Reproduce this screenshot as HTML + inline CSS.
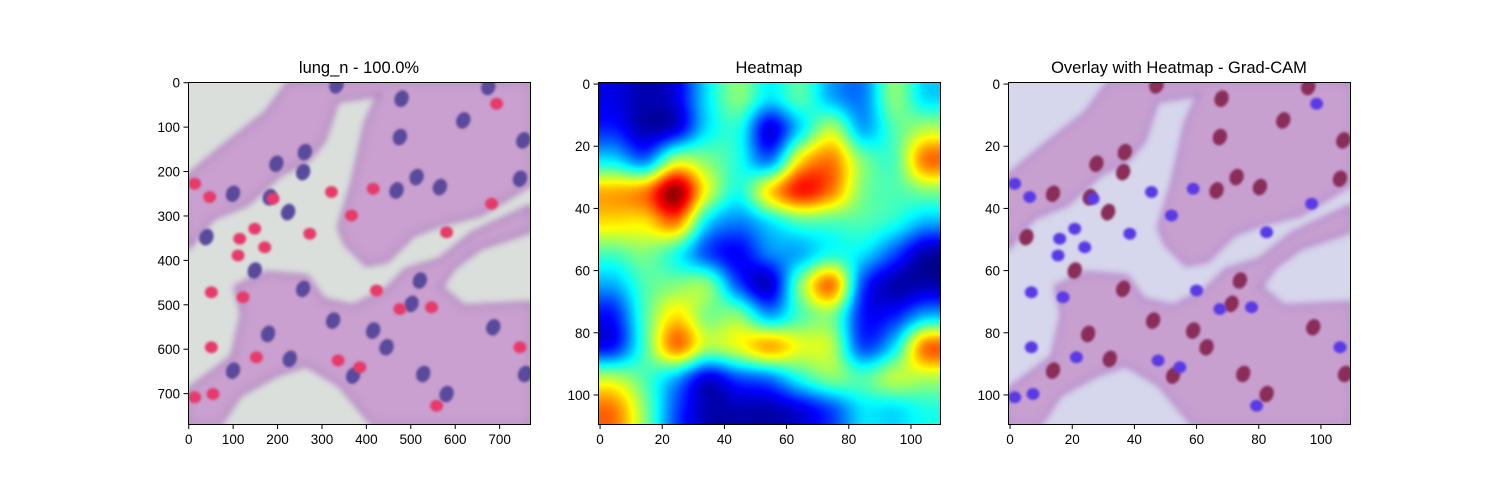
<!DOCTYPE html>
<html><head><meta charset="utf-8"><style>
body{margin:0;background:#fff;width:1500px;height:500px;overflow:hidden;font-family:"Liberation Sans","DejaVu Sans",sans-serif}
canvas{position:absolute}
svg{position:absolute;left:0;top:0}
</style></head><body>
<canvas id="c1" width="342" height="342" style="left:188px;top:82px"></canvas>
<canvas id="c2" width="342" height="342" style="left:598px;top:82px"></canvas>
<canvas id="c3" width="342" height="342" style="left:1008px;top:82px"></canvas>
<svg id="ax" width="1500" height="500"></svg>
<script>
// heatmap grid values (rows top->bottom, cols left->right), cell size 10 units over 0..110
const heatRow0=[0.1,0.05,0.1,0.35,0.5,0.35,0.45,0.3,0.25,0.5,0.35];
const heatRow1=[0.15,0.05,0.1,0.35,0.4,0.1,0.35,0.55,0.3,0.45,0.55];
const heatRow2=[0.35,0.25,0.55,0.5,0.4,0.25,0.65,0.75,0.5,0.45,0.75];
const heatRow3=[0.7,0.75,0.97,0.6,0.4,0.65,0.85,0.75,0.5,0.45,0.5];
const heatRow4=[0.65,0.65,0.75,0.35,0.25,0.35,0.45,0.45,0.45,0.4,0.3];
const heatRow5=[0.45,0.5,0.4,0.2,0.12,0.25,0.3,0.4,0.35,0.2,0.05];
const heatRow6=[0.3,0.45,0.5,0.5,0.2,0.08,0.5,0.75,0.2,0.05,0.05];
const heatRow7=[0.15,0.45,0.65,0.5,0.5,0.3,0.45,0.5,0.15,0.15,0.3];
const heatRow8=[0.15,0.45,0.75,0.55,0.6,0.7,0.6,0.55,0.2,0.35,0.75];
const heatRow9=[0.55,0.45,0.3,0.1,0.2,0.25,0.4,0.5,0.45,0.55,0.55];
const heatRow10=[0.75,0.5,0.2,0.05,0.05,0.05,0.1,0.2,0.35,0.35,0.4];
const heat=[heatRow0,heatRow1,heatRow2,heatRow3,heatRow4,heatRow5,heatRow6,heatRow7,heatRow8,heatRow9,heatRow10];
const ticks1=[0,100,200,300,400,500,600,700];
const ticks2=[0,20,40,60,80,100];
const extent1=770, extent2=110;
const titles=["lung_n - 100.0%","Heatmap","Overlay with Heatmap - Grad-CAM"];
const panelX=[188,598,1008], panelY=82, S=342;

function jet(v){const c=x=>Math.max(0,Math.min(1,x));return [c(1.5-Math.abs(4*v-3)),c(1.5-Math.abs(4*v-2)),c(1.5-Math.abs(4*v-1))].map(x=>Math.round(x*255));}
function cr(p0,p1,p2,p3,t){return 0.5*(2*p1+(-p0+p2)*t+(2*p0-5*p1+4*p2-p3)*t*t+(-p0+3*p1-3*p2+p3)*t*t*t);}
function H(j,i){const n=heat.length;j=Math.max(0,Math.min(n-1,j));i=Math.max(0,Math.min(n-1,i));return heat[j][i];}
function heatAt(u,v){
  const gx=u/10-0.5,gy=v/10-0.5;const i=Math.floor(gx),j=Math.floor(gy),fx=gx-i,fy=gy-j;
  const rows=[];for(let k=-1;k<=2;k++)rows.push(cr(H(j+k,i-1),H(j+k,i),H(j+k,i+1),H(j+k,i+2),fx));
  return Math.max(0,Math.min(1,cr(rows[0],rows[1],rows[2],rows[3],fy)));
}
(function(){const cv=document.getElementById('c2'),ctx=cv.getContext('2d');const im=ctx.createImageData(S,S);
for(let y=0;y<S;y++)for(let x=0;x<S;x++){const v=heatAt(x/S*extent2,y/S*extent2);const c=jet(v);const k=(y*S+x)*4;im.data[k]=c[0];im.data[k+1]=c[1];im.data[k+2]=c[2];im.data[k+3]=255;}
ctx.putImageData(im,0,0);})();

const tissueA=[[0,330],[120,230],[260,120],[330,25],[1050,25],[1050,330],[900,420],[780,450],[700,480],[620,560],[560,570],[500,510],[480,460],[520,330],[560,150],[600,60],[470,80],[430,200],[380,260],[300,300],[200,390],[100,430],[25,520]];
const tissueB=[[170,640],[260,600],[380,610],[430,680],[520,700],[620,650],[680,590],[780,560],[880,480],[1050,400],[1050,470],[900,520],[820,580],[780,640],[850,700],[1050,690],[1050,1050],[580,1050],[480,930],[380,870],[290,900],[180,960],[120,1050],[25,1050],[25,950],[160,850],[190,720]];
const nuclei=[[470,35],[665,75],[660,190],[850,140],[160,360],[270,370],[325,415],[80,490],[225,590],[370,645],[650,350],[710,310],[780,340],[460,740],[265,780],[720,620],[695,690],[580,770],[620,820],[730,900],[330,855],[160,890],[1030,200],[1020,315],[940,760],[1035,900],[800,960],[520,905],[925,40],[375,235],[370,295],[290,270]];
const rbcs=[[45,330],[90,370],[280,375],[455,355],[580,345],[515,425],[225,465],[180,495],[175,545],[255,520],[390,480],[800,475],[935,390],[95,655],[190,670],[660,705],[755,700],[230,850],[475,860],[540,880],[45,970],[100,960],[1020,820],[770,995],[590,650],[95,820],[950,90]];
function P(p){return [(p[0]-25)/1025*S,(p[1]-25)/1025*S];}
function drawTissue(id,bg,tis,tis2,nuc,rbc){
  const ctx=document.getElementById(id).getContext('2d');
  ctx.fillStyle=bg;ctx.fillRect(0,0,S,S);
  ctx.filter='blur(3px)';
  [tissueA,tissueB].forEach(poly=>{ctx.beginPath();poly.forEach((p,i)=>{const q=P(p);i?ctx.lineTo(q[0],q[1]):ctx.moveTo(q[0],q[1]);});ctx.closePath();ctx.fillStyle=tis;ctx.fill();ctx.strokeStyle=tis2;ctx.lineWidth=4;ctx.stroke();});
  ctx.filter='blur(1px)';
  nuclei.forEach(p=>{const q=P(p);ctx.beginPath();ctx.ellipse(q[0],q[1],7,8.5,0.4,0,7);ctx.fillStyle=nuc;ctx.fill();});
  rbcs.forEach(p=>{const q=P(p);ctx.beginPath();ctx.ellipse(q[0],q[1],6.5,6,0,0,7);ctx.fillStyle=rbc;ctx.fill();});
  ctx.filter='none';
}
drawTissue('c1','#dadfdc','#c9a0cf','#b07cc0','#5a4a9c','#e83a6a');
drawTissue('c3','#d6d6ec','#c8a0d0','#b380c8','#8a2d58','#5a3ae6');

const svg=document.getElementById('ax');const NS='http://www.w3.org/2000/svg';
function el(t,a,txt){const e=document.createElementNS(NS,t);for(const k in a)e.setAttribute(k,a[k]);if(txt!==undefined)e.textContent=txt;svg.appendChild(e);return e;}
titles.forEach((t,pi)=>{
  const x0=panelX[pi];const ticks=pi===0?ticks1:ticks2;const ext=pi===0?extent1:extent2;
  const sc=v=>v/ext*S;
  const f=el('rect',{x:x0+0.5,y:panelY+0.5,width:S,height:S,fill:'none',stroke:'#000','stroke-width':1});
  
  const tt=el('text',{x:x0+S/2,y:panelY-9,'text-anchor':'middle','font-size':'16.5px',fill:'#000'},t);
  
  ticks.forEach(v=>{
    const xp=x0+0.5+sc(v)+0.5*S/ext, yp=panelY+0.5+sc(v)+0.5*S/ext;
    el('line',{x1:xp,y1:panelY+S,x2:xp,y2:panelY+S+5,stroke:'#000'});
    const xl=el('text',{x:xp,y:panelY+S+20,'text-anchor':'middle','font-size':'13.5px'},v);
    
    el('line',{x1:x0-4.5,y1:yp,x2:x0,y2:yp,stroke:'#000'});
    const yl=el('text',{x:x0-8,y:yp+5,'text-anchor':'end','font-size':'13.5px'},v);
    
  });
});
</script>
</body></html>
